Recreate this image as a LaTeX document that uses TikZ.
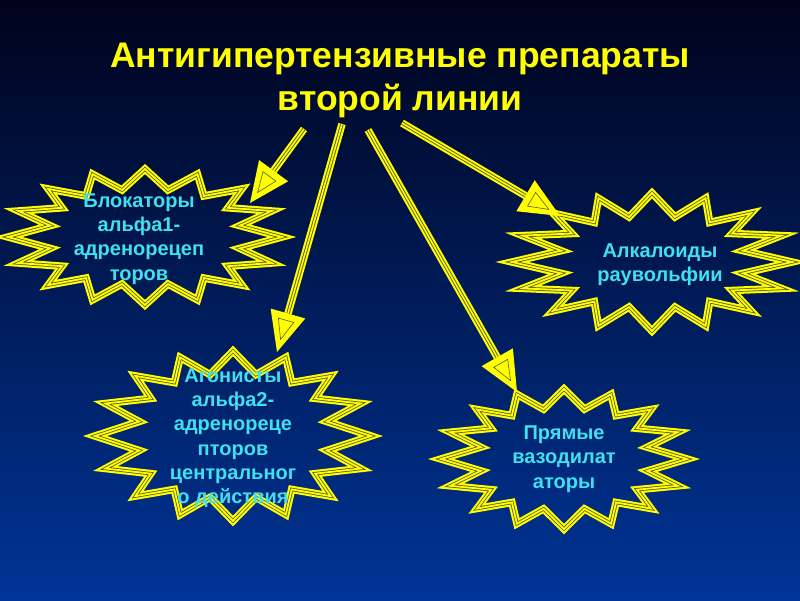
\documentclass[tikz,border=0pt]{standalone}
\usepackage{fontspec}
\setmainfont{Liberation Sans}
\usetikzlibrary{calc}
\definecolor{bgtop}{RGB}{0,3,28}
\definecolor{bgmid}{RGB}{6,30,112}
\definecolor{bgbot}{RGB}{0,52,150}
\definecolor{ylw}{RGB}{255,255,0}
\definecolor{stripe}{RGB}{90,90,35}
\definecolor{cyantxt}{RGB}{64,224,240}
\tikzset{
  ttl/.style={text=ylw, font=\bfseries\fontsize{35.5}{43}\selectfont, align=center, inner sep=0pt},
  lbl/.style={text=cyantxt, font=\bfseries\fontsize{20}{24.3}\selectfont, align=center, inner sep=0pt},
  burst/.style={line join=miter, miter limit=6,
    preaction={draw=ylw, line width=7.5pt, line join=miter, miter limit=6},
    preaction={draw=stripe, line width=3.4pt, line join=miter, miter limit=6},
    draw=ylw, line width=1.8pt},
  shaft/.style={
    preaction={draw=ylw, line width=7.5pt},
    preaction={draw=stripe, line width=3.4pt},
    draw=ylw, line width=1.6pt},
  headfill/.style={fill=ylw},
  headmark/.style={draw=stripe, line width=0.6pt, line join=miter}
}
% #1 centre, #2 rx, #3 ry (tips), #4 depth at sides, #5 depth at top/bottom, #6 angle
\newcommand{\inpt}[6]{($(#1)+({#2*cos(#6)*0.981-#4*cos(#6)*sqrt(abs(cos(#6)))},{#3*sin(#6)*0.981-#5*sin(#6)*sqrt(abs(sin(#6)))})$)}
\newcommand{\burst}[5]{%
  \draw[burst] ($(#1)+({#2},0)$)
    \foreach \k in {0,...,14}{ -- \inpt{#1}{#2}{#3}{#4}{#5}{\k*22.5+11.25} -- ($(#1)+({#2*cos(\k*22.5+22.5)},{#3*sin(\k*22.5+22.5)})$)}
    -- \inpt{#1}{#2}{#3}{#4}{#5}{348.75} -- cycle;}
\newcommand{\yarrow}[2]{%
  \coordinate (hb) at ($(#2)!40pt!(#1)$);
  \coordinate (ib) at ($(#2)!33pt!(#1)$);
  \coordinate (it) at ($(#2)!13pt!(#1)$);
  \draw[shaft] (#1) -- (hb);
  \fill[headfill] (#2) -- ($(hb)!18pt!90:(#2)$) -- ($(hb)!18pt!-90:(#2)$) -- cycle;
  \draw[headmark] (it) -- ($(ib)!8pt!90:(#2)$) -- ($(ib)!8pt!-90:(#2)$) -- cycle;}
\begin{document}
\begin{tikzpicture}[x=1pt,y=-1pt]
\useasboundingbox (0,0) rectangle (800,600);
\shade[top color=bgtop, middle color=bgmid, bottom color=bgbot] (0,0) rectangle (800,600);
% burst centres
\coordinate (c1) at (145,237);
\coordinate (c2) at (233,436);
\coordinate (c3) at (652,262);
\coordinate (c4) at (564,459);
\burst{c1}{137}{68}{38}{19}
\burst{c2}{138}{85}{40}{21}
\burst{c3}{140}{69}{45}{22}
\burst{c4}{123}{70}{36}{18}
% arrows
\coordinate (s1) at (304,129); \coordinate (t1) at (250,203);
\coordinate (s2) at (342,124); \coordinate (t2) at (277,352);
\coordinate (s3) at (368,130); \coordinate (t3) at (517,392);
\coordinate (s4) at (402,123); \coordinate (t4) at (560,216);
\yarrow{s1}{t1}
\yarrow{s2}{t2}
\yarrow{s3}{t3}
\yarrow{s4}{t4}
% texts
\node[ttl] (title) at (400,80) {Антигипертензивные препараты\\второй линии};
\node[lbl] (n1) at (139,239) {Блокаторы\\альфа1-\\адренорецеп\\торов};
\node[lbl] (n2) at (233,438) {Агонисты\\альфа2-\\адренореце\\пторов\\центральног\\о действия};
\node[lbl] (n3) at (660,265) {Алкалоиды\\раувольфии};
\node[lbl] (n4) at (564,459) {Прямые\\вазодилат\\аторы};
\end{tikzpicture}
\end{document}
